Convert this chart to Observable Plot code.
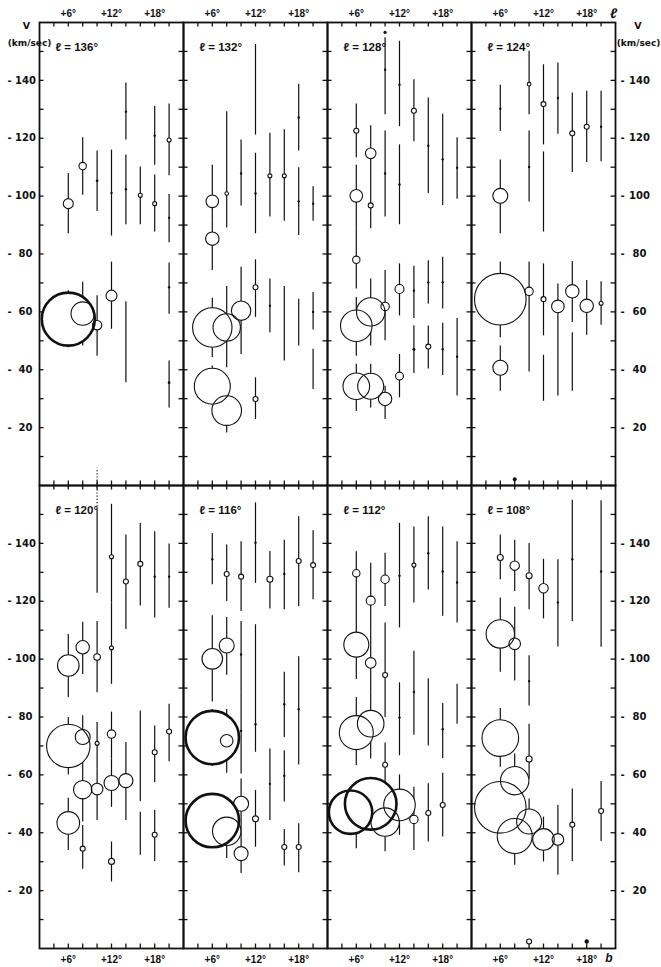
<!DOCTYPE html>
<html><head><meta charset="utf-8">
<script src="https://cdn.jsdelivr.net/npm/d3@7"></script>
<script src="https://cdn.jsdelivr.net/npm/@observablehq/plot@0.6"></script>
<style>
html,body{margin:0;padding:0;background:#fff;}
#chart{width:661px;height:967px;}
</style></head><body><div id="chart"></div>
<script>
// Galactic longitude of each panel (row-major: top row, then bottom row)
const longitudes = [136, 132, 128, 124, 120, 116, 112, 108];

// Features per panel: [b (deg), V (-km/s), V low, V high, size, kind]
// kind: "c" open circle, "C" heavy circle, "d" dot, "-" velocity range only
const l136 = [
  [6, 97.4, 87.0, 107.8, 5.0, "c"], [6, 57.5, 47.6, 67.3, 26.5, "C"],
  [8, 110.4, 100.3, 120.2, 3.7, "c"], [8, 59.4, 48.2, 70.2, 11.7, "c"],
  [10, 105.3, 94.7, 115.6, 1.4, "d"], [10, 55.4, 44.7, 65.6, 4.7, "c"],
  [12, 101.1, 86.2, 115.9, 1.2, "d"], [12, 65.6, 54.0, 77.2, 5.5, "c"],
  [14, 129.2, 119.4, 139.1, 1.2, "d"], [14, 102.4, 90.1, 114.2, 1.2, "d"], [14, 49.5, 35.5, 63.5, 0, "-"],
  [16, 100.3, 90.1, 110.1, 2.0, "c"],
  [18, 120.9, 110.7, 131.0, 1.2, "d"], [18, 97.4, 87.6, 107.3, 2.0, "c"],
  [20, 119.4, 107.0, 131.8, 2.0, "c"], [20, 92.5, 83.9, 100.6, 1.2, "d"],
  [20, 68.5, 59.2, 76.9, 1.2, "d"], [20, 35.5, 26.8, 43.0, 1.4, "d"]
];
const l132 = [
  [6, 98.2, 91.7, 110.7, 6.3, "c"], [6, 85.3, 74.3, 91.7, 6.7, "c"],
  [8, 100.9, 89.0, 129.2, 1.8, "c"], [10, 107.8, 96.6, 119.4, 1.2, "d"],
  [12, 136.8, 121.1, 152.4, 0, "-"], [12, 100.9, 87.0, 114.8, 1.2, "d"],
  [14, 107.0, 92.8, 121.7, 2.0, "c"], [16, 107.0, 91.3, 122.9, 2.0, "c"],
  [18, 127.2, 115.6, 138.7, 1.2, "d"], [18, 98.2, 86.4, 109.8, 1.2, "d"],
  [20, 97.4, 91.3, 103.2, 1.2, "d"],
  [12, 68.5, 58.1, 78.0, 2.5, "c"], [10, 60.4, 45.3, 75.4, 9.7, "c"],
  [8, 54.6, 40.7, 68.8, 13.7, "c"], [6, 54.6, 44.2, 64.7, 19.7, "c"],
  [6, 34.3, 28.0, 41.3, 18.0, "c"], [8, 25.9, 18.1, 34.0, 14.8, "c"],
  [12, 29.9, 22.8, 37.2, 2.5, "c"], [14, 62.1, 52.8, 71.4, 1.2, "d"],
  [16, 56.0, 43.0, 68.8, 0, "-"], [18, 56.3, 48.2, 64.4, 0, "-"],
  [20, 60.0, 53.7, 66.7, 1.2, "d"], [20, 40.0, 33.2, 47.1, 0, "-"]
];
const l128 = [
  [6, 122.6, 113.3, 131.8, 2.5, "c"], [6, 100.1, 88.7, 110.7, 6.3, "c"],
  [6, 78.0, 67.9, 88.7, 3.7, "c"], [6, 55.2, 44.7, 65.0, 15.8, "c"], [6, 34.3, 25.6, 41.9, 13.3, "c"],
  [8, 114.8, 106.1, 124.3, 5.3, "c"], [8, 96.8, 88.7, 106.1, 2.5, "c"],
  [8, 60.0, 48.2, 71.4, 14.2, "c"], [8, 34.3, 26.8, 41.9, 13.0, "c"],
  [10, 143.7, 128.1, 154.7, 1.2, "d"], [10, 156.6, 156.6, 156.6, 1.6, "d"],
  [10, 107.8, 92.8, 122.5, 1.2, "d"], [10, 61.9, 50.0, 74.3, 4.2, "c"], [10, 29.9, 22.8, 34.3, 6.7, "c"],
  [12, 138.5, 124.0, 153.5, 1.2, "d"], [12, 104.0, 90.1, 117.7, 1.2, "d"],
  [12, 67.9, 58.6, 76.6, 4.5, "c"], [12, 37.8, 30.3, 45.3, 4.0, "c"],
  [14, 129.5, 118.8, 140.2, 2.5, "c"], [14, 67.3, 57.7, 75.8, 1.2, "d"], [14, 47.1, 38.7, 55.2, 1.5, "d"],
  [16, 117.4, 100.9, 133.9, 1.2, "d"], [16, 70.2, 62.7, 77.7, 1.2, "d"], [16, 48.0, 40.3, 55.1, 2.5, "c"],
  [18, 112.7, 96.8, 128.3, 1.2, "d"], [18, 70.2, 61.0, 78.9, 1.2, "d"], [18, 47.1, 38.0, 56.1, 1.2, "d"],
  [20, 109.8, 98.9, 120.2, 1.2, "d"], [20, 44.5, 30.9, 57.7, 1.2, "d"]
];
const l124 = [
  [6, 130.2, 122.3, 138.3, 1.2, "d"], [6, 100.1, 87.0, 112.5, 7.5, "c"],
  [6, 64.4, 51.1, 77.2, 25.8, "c"], [6, 40.7, 32.6, 48.2, 7.5, "c"],
  [8, 2.2, 2.2, 2.2, 2.0, "d"],
  [10, 138.7, 128.1, 150.1, 1.8, "c"], [10, 110.1, 98.0, 122.5, 1.2, "d"], [10, 67.1, 39.2, 77.2, 4.2, "c"],
  [12, 131.8, 117.7, 145.4, 2.5, "c"], [12, 101.5, 87.6, 115.3, 0, "-"],
  [12, 64.4, 51.7, 76.6, 2.5, "c"], [12, 37.0, 29.1, 45.0, 0, "-"],
  [14, 133.9, 121.4, 146.0, 1.2, "d"], [14, 61.9, 30.9, 69.6, 6.3, "c"],
  [16, 121.7, 108.2, 135.6, 2.5, "c"], [16, 67.1, 56.3, 77.4, 6.7, "c"], [16, 42.7, 32.6, 52.8, 0, "-"],
  [18, 124.0, 111.6, 136.2, 2.5, "c"], [18, 62.1, 51.9, 70.8, 6.7, "c"],
  [20, 124.0, 111.9, 136.2, 1.2, "d"], [20, 63.0, 55.4, 70.4, 2.0, "c"]
];
const l120 = [
  [6, 97.8, 86.7, 108.5, 10.8, "c"], [8, 104.1, 94.7, 112.7, 6.7, "c"],
  [10, 137.0, 122.8, 151.5, 0, "-"], [10, 100.7, 88.4, 113.0, 3.3, "c"],
  [12, 135.4, 119.4, 153.5, 2.0, "c"], [12, 103.9, 91.3, 119.4, 2.0, "c"],
  [14, 126.8, 110.2, 142.9, 2.5, "c"], [16, 132.9, 118.4, 146.9, 2.5, "c"],
  [18, 128.5, 114.2, 144.0, 1.2, "d"], [20, 128.5, 117.6, 139.8, 1.2, "d"],
  [6, 70.0, 60.0, 79.8, 21.7, "c"], [6, 43.4, 33.9, 51.9, 11.3, "c"],
  [8, 73.1, 64.3, 80.4, 7.5, "c"], [8, 54.9, 43.7, 64.3, 9.2, "c"], [8, 34.5, 27.4, 42.5, 2.5, "c"],
  [10, 70.9, 62.0, 78.1, 2.0, "c"], [10, 55.1, 44.2, 62.0, 5.8, "c"],
  [12, 74.1, 65.5, 81.7, 4.2, "c"], [12, 57.2, 48.8, 65.5, 7.5, "c"], [12, 30.1, 23.0, 36.8, 3.0, "c"],
  [14, 58.0, 44.2, 71.2, 7.0, "c"],
  [16, 66.5, 50.8, 82.1, 0, "-"], [16, 39.7, 32.2, 47.1, 0, "-"],
  [18, 67.8, 57.4, 76.9, 2.5, "c"], [18, 39.3, 30.1, 47.7, 2.5, "c"],
  [20, 75.0, 64.5, 84.4, 2.5, "c"]
];
const l116 = [
  [6, 134.5, 125.7, 143.4, 1.2, "d"], [6, 100.1, 85.2, 115.0, 10.3, "c"],
  [8, 129.4, 119.9, 139.4, 2.5, "c"], [8, 104.7, 94.4, 114.4, 7.5, "c"],
  [10, 128.5, 116.5, 140.6, 2.5, "c"], [10, 101.6, 88.4, 113.0, 1.2, "d"], [10, 75.2, 60.3, 88.4, 1.2, "d"],
  [10, 50.0, 41.4, 58.6, 7.5, "c"], [10, 32.8, 25.9, 41.4, 7.0, "c"],
  [12, 140.2, 126.2, 154.0, 1.2, "d"], [12, 77.5, 67.8, 111.9, 1.2, "d"], [12, 44.8, 35.0, 54.6, 3.0, "c"],
  [14, 127.6, 117.3, 137.2, 3.0, "c"], [14, 56.9, 44.2, 68.9, 1.2, "d"],
  [16, 129.4, 117.1, 141.1, 1.2, "d"], [16, 84.4, 72.9, 95.5, 1.2, "d"],
  [16, 59.7, 50.6, 68.3, 1.2, "d"], [16, 35.1, 28.5, 41.1, 2.5, "c"],
  [18, 133.9, 118.2, 149.2, 2.5, "c"], [18, 82.7, 63.4, 100.8, 1.2, "d"], [18, 35.1, 26.2, 43.1, 2.5, "c"],
  [20, 132.5, 120.5, 144.4, 2.5, "c"],
  [6, 72.9, 62.9, 82.6, 26.7, "C"], [8, 71.8, 60.6, 82.6, 6.3, "c"],
  [6, 44.2, 36.0, 52.0, 26.7, "C"], [8, 40.5, 31.1, 49.4, 14.2, "c"]
];
const l112 = [
  [6, 129.7, 119.9, 137.1, 3.7, "c"], [6, 105.0, 93.0, 119.9, 12.5, "c"], [6, 74.6, 63.2, 86.7, 17.0, "c"],
  [5.2, 47.1, 47.1, 47.1, 21.7, "C"], [6, 40.0, 34.5, 45.0, 0, "-"], [8, 50.0, 42.0, 58.0, 25.8, "C"],
  [8, 120.2, 109.6, 133.1, 4.5, "c"], [8, 98.7, 88.4, 109.6, 5.3, "c"], [8, 77.7, 65.5, 88.4, 13.3, "c"],
  [10, 127.6, 118.2, 136.6, 4.2, "c"], [10, 94.5, 79.8, 112.5, 2.5, "c"],
  [10, 63.5, 54.0, 71.0, 2.5, "c"], [10, 43.7, 33.4, 54.0, 14.2, "c"],
  [12, 128.8, 110.8, 146.9, 1.2, "d"], [12, 79.8, 66.6, 91.8, 1.2, "d"], [12, 49.6, 39.1, 60.0, 15.8, "c"],
  [14, 132.5, 119.4, 145.7, 2.0, "c"], [14, 88.6, 73.7, 102.7, 1.2, "d"], [14, 44.6, 33.9, 55.7, 4.2, "c"],
  [16, 136.6, 123.9, 149.2, 1.2, "d"], [16, 81.6, 70.0, 93.2, 0, "-"], [16, 46.8, 36.8, 56.9, 2.5, "c"],
  [18, 130.3, 114.8, 145.7, 1.2, "d"], [18, 75.8, 65.7, 84.7, 1.2, "d"], [18, 49.6, 38.5, 60.6, 2.5, "c"],
  [20, 126.5, 112.5, 140.6, 1.2, "d"], [20, 84.4, 77.5, 91.3, 0, "-"]
];
const l108 = [
  [6, 135.1, 127.4, 142.9, 3.0, "c"], [6, 108.7, 95.5, 121.1, 14.2, "c"],
  [6, 72.7, 62.6, 82.9, 18.3, "c"], [6, 48.8, 42.0, 56.0, 25.8, "c"],
  [8, 132.3, 123.4, 141.1, 4.7, "c"], [8, 105.3, 92.4, 117.9, 5.8, "c"],
  [8, 58.0, 47.1, 67.2, 14.2, "c"], [8, 38.9, 28.8, 44.8, 17.5, "c"],
  [10, 128.8, 117.1, 140.0, 3.0, "c"], [10, 92.4, 83.8, 101.2, 1.2, "d"],
  [10, 65.5, 58.6, 77.5, 3.0, "c"], [10, 43.9, 36.2, 51.7, 12.5, "c"], [10, 2.4, 2.4, 2.4, 2.5, "c"],
  [12, 124.5, 113.9, 134.5, 4.7, "c"], [12, 37.7, 29.9, 45.4, 10.8, "c"],
  [14, 119.6, 104.2, 134.3, 1.2, "d"], [14, 37.7, 25.3, 49.4, 5.8, "c"],
  [16, 134.5, 113.0, 154.9, 1.2, "d"], [16, 42.8, 30.1, 55.1, 2.5, "c"],
  [18, 2.4, 2.4, 2.4, 2.2, "d"],
  [20, 130.3, 104.1, 154.7, 1.2, "d"], [20, 47.5, 37.0, 57.7, 2.5, "c"]
];
const panelFeatures = [l136, l132, l128, l124, l120, l116, l112, l108];

// Range continuing beyond the panel (dotted): [longitude, b, V low, V high]
const dottedRanges = [[120, 10, 151.5, 166]];

// Axes
const bDomain = [2, 22];
const vDomain = [0, 160];
const bTicks = [4, 6, 8, 10, 12, 14, 16, 18, 20];
const bLabelValues = [6, 12, 18];
const bLabels = ["+6°", "+12°", "+18°"];
const vTicks = [10, 20, 30, 40, 50, 60, 70, 80, 90, 100, 110, 120, 130, 140, 150];
const vLabelValues = [20, 40, 60, 80, 100, 120, 140];

// ---- layout ----
const W = 661, H = 967;
const mL = 38, mR = 45.5, mT = 22, mB = 19;
const tickLen = 4.5;
const pxPerDeg = (W - mL - mR) / 4 / (bDomain[1] - bDomain[0]);
const pxPerV = (H - mT - mB) / 2 / (vDomain[1] - vDomain[0]);
const tlx = tickLen / pxPerDeg, tly = tickLen / pxPerV;

const pos = i => ({col: i % 4, row: Math.floor(i / 4)});
const features = longitudes.flatMap((l, i) =>
  panelFeatures[i].map(([b, v, lo, hi, size, kind]) => ({l, ...pos(i), b, v, lo, hi, size, kind})));
const ranges = features.filter(d => d.hi > d.lo);
const circles = features.filter(d => d.kind === "c" || d.kind === "C");
const thin = features.filter(d => d.kind === "c");
const heavy = features.filter(d => d.kind === "C");
const dots = features.filter(d => d.kind === "d");
const dotted = dottedRanges.map(([l, b, lo, hi]) => ({...pos(longitudes.indexOf(l)), b, lo, hi}));
const panels = longitudes.map((l, i) => ({l, ...pos(i)}));

const topLabels = [0, 1, 2, 3].flatMap(col => bLabelValues.map((b, j) => ({col, row: 0, b, t: bLabels[j]})));
const botLabels = [0, 1, 2, 3].flatMap(col => bLabelValues.map((b, j) => ({col, row: 1, b, t: bLabels[j]})));
const leftLabels = [0, 1].flatMap(row => vLabelValues.map(v => ({col: 0, row, v})));
const rightLabels = [0, 1].flatMap(row => vLabelValues.map(v => ({col: 3, row, v})));

const ink = "#111";
const num = {fontFamily: "'DejaVu Sans', sans-serif", fontWeight: "bold", fontSize: 10, fill: ink, textAnchor: "middle"};
const lab = {fontFamily: "'Liberation Sans', Arial, sans-serif", fontWeight: "bold", fill: ink};

const chart = Plot.plot({
  width: W, height: H,
  marginLeft: mL, marginRight: mR, marginTop: mT, marginBottom: mB,
  style: {background: "#fff", color: ink, fontFamily: "'DejaVu Sans', sans-serif"},
  x: {domain: bDomain, axis: null},
  y: {domain: vDomain, axis: null},
  fx: {domain: [0, 1, 2, 3], padding: 0, axis: null},
  fy: {domain: [0, 1], padding: 0, axis: null},
  r: {type: "linear", domain: [0, 30], range: [0, 30]},
  marks: [
    Plot.ruleX(ranges, {fx: "col", fy: "row", x: "b", y1: "lo", y2: "hi", stroke: ink, strokeWidth: 1.2}),
    Plot.ruleX(dotted, {fx: "col", fy: "row", x: "b", y1: "lo", y2: "hi", stroke: ink, strokeWidth: 1.2, strokeDasharray: "1.2,2"}),
    Plot.dot(circles, {fx: "col", fy: "row", x: "b", y: "v", r: "size", fill: "#fff", stroke: "none"}),
    Plot.dot(thin, {fx: "col", fy: "row", x: "b", y: "v", r: "size", fill: "none", stroke: ink, strokeWidth: 1.1}),
    Plot.dot(heavy, {fx: "col", fy: "row", x: "b", y: "v", r: "size", fill: "none", stroke: ink, strokeWidth: 2.6}),
    Plot.dot(dots, {fx: "col", fy: "row", x: "b", y: "v", r: "size", fill: ink, stroke: "none"}),
    // inward ticks on every panel edge
    Plot.ruleY(vTicks, {y: d => d, x1: () => bDomain[0], x2: () => bDomain[0] + tlx, stroke: ink, strokeWidth: 1.3}),
    Plot.ruleY(vTicks, {y: d => d, x1: () => bDomain[1] - tlx, x2: () => bDomain[1], stroke: ink, strokeWidth: 1.3}),
    Plot.ruleX(bTicks, {x: d => d, y1: () => vDomain[0], y2: () => vDomain[0] + tly, stroke: ink, strokeWidth: 1.3}),
    Plot.ruleX(bTicks, {x: d => d, y1: () => vDomain[1] - tly, y2: () => vDomain[1], stroke: ink, strokeWidth: 1.3}),
    Plot.frame({stroke: ink, strokeWidth: 1.8}),
    // panel titles
    Plot.text(panels, {fx: "col", fy: "row", frameAnchor: "top-left", textAnchor: "start", lineAnchor: "middle",
      dx: 16, dy: 24.5, text: d => `ℓ = ${d.l}°`, fontSize: 11.5, ...lab}),
    // latitude labels
    Plot.text(topLabels, {fx: "col", fy: "row", x: "b", frameAnchor: "top", textAnchor: "middle", lineAnchor: "middle", dy: -9, text: "t", fontSize: 10, ...lab}),
    Plot.text(botLabels, {fx: "col", fy: "row", x: "b", frameAnchor: "bottom", textAnchor: "middle", lineAnchor: "middle", dy: 11, text: "t", fontSize: 10, ...lab}),
    // velocity labels (dash and number)
    Plot.text(leftLabels, {fx: "col", fy: "row", y: "v", frameAnchor: "left", dx: -14, text: d => String(d.v), ...num}),
    Plot.text(leftLabels, {fx: "col", fy: "row", y: "v", frameAnchor: "left", dx: -30, text: () => "-", ...num}),
    Plot.text(rightLabels, {fx: "col", fy: "row", y: "v", frameAnchor: "right", dx: 24, text: d => String(d.v), ...num}),
    Plot.text(rightLabels, {fx: "col", fy: "row", y: "v", frameAnchor: "right", dx: 7, text: () => "-", ...num}),
    // axis titles
    Plot.text([{col: 0, row: 0}], {fx: "col", fy: "row", frameAnchor: "top-left", lineAnchor: "middle", dx: -13, dy: 3, text: () => "V", ...num, fontSize: 9.5}),
    Plot.text([{col: 0, row: 0}], {fx: "col", fy: "row", frameAnchor: "top-left", lineAnchor: "middle", dx: -10, dy: 20.5, text: () => "(km/sec)", ...num, fontSize: 9}),
    Plot.text([{col: 3, row: 0}], {fx: "col", fy: "row", frameAnchor: "top-right", lineAnchor: "middle", dx: 22.5, dy: 3, text: () => "V", ...num, fontSize: 9.5}),
    Plot.text([{col: 3, row: 0}], {fx: "col", fy: "row", frameAnchor: "top-right", lineAnchor: "middle", dx: 23, dy: 20.5, text: () => "(km/sec)", ...num, fontSize: 9}),
    Plot.text([{col: 3, row: 0}], {fx: "col", fy: "row", frameAnchor: "top-right", textAnchor: "middle", lineAnchor: "middle", dx: -2, dy: -9, text: () => "ℓ", ...lab, fontSize: 14, fontStyle: "italic"}),
    Plot.text([{col: 3, row: 1}], {fx: "col", fy: "row", frameAnchor: "bottom-right", textAnchor: "middle", lineAnchor: "middle", dx: -6.5, dy: 9.5, text: () => "b", ...lab, fontSize: 12, fontStyle: "italic"})
  ]
});
document.getElementById("chart").appendChild(chart);
</script>
</body></html>
